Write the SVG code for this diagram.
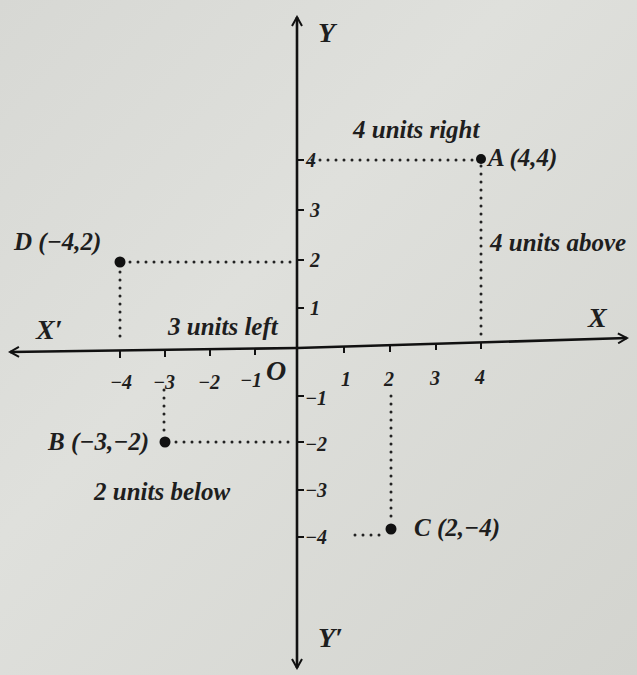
<svg xmlns="http://www.w3.org/2000/svg" width="637" height="675" viewBox="0 0 637 675">
<defs>
<linearGradient id="bg" x1="0" y1="0" x2="1" y2="1">
<stop offset="0" stop-color="#d7d8d4"/>
<stop offset="0.4" stop-color="#dfe0dc"/>
<stop offset="1" stop-color="#d3d4cf"/>
</linearGradient>
<marker id="ah" viewBox="0 0 12 12" refX="10" refY="6" markerWidth="12" markerHeight="12" markerUnits="userSpaceOnUse" orient="auto">
<path d="M1,1 L10,6 L1,11" fill="none" stroke="#111" stroke-width="2"/>
</marker>
<style>
.t{font-family:"Liberation Serif",serif;font-style:italic;font-weight:bold;fill:#1e1e1e;font-size:25px}
.big{font-size:28px}
.n{font-family:"Liberation Serif",serif;font-style:italic;font-weight:bold;fill:#1e1e1e;font-size:20px}
.ax{stroke:#111;stroke-width:2.6;fill:none}
.tk{stroke:#111;stroke-width:2;fill:none}
.dot{stroke:#222;stroke-width:3;stroke-linecap:round;stroke-dasharray:0 8;fill:none}
.pt{fill:#111}
</style>
</defs>
<rect width="637" height="675" fill="url(#bg)"/>
<g id="connectors">
<path class="dot" d="M312,160 H476"/>
<path class="dot" d="M481,166 V336"/>
<path class="dot" d="M130,262 H294"/>
<path class="dot" d="M120,272 V344"/>
<path class="dot" d="M164,390 V436"/>
<path class="dot" d="M176,442 H290"/>
<path class="dot" d="M391,396 V522"/>
<path class="dot" d="M355,535 H383"/>
</g>
<g id="axes">
<line class="ax" x1="297" y1="664" x2="297" y2="17" marker-end="url(#ah)"/>
<line class="ax" x1="297" y1="664" x2="297" y2="668" marker-end="url(#ah)"/>
<line class="ax" x1="297" y1="348" x2="627" y2="338" marker-end="url(#ah)"/>
<line class="ax" x1="297" y1="348" x2="10" y2="352" marker-end="url(#ah)"/>
<g class="tk">
<line x1="120" y1="351" x2="120" y2="358"/>
<line x1="165" y1="350" x2="165" y2="357"/>
<line x1="210" y1="350" x2="210" y2="356"/>
<line x1="255" y1="349" x2="255" y2="355"/>
<line x1="344" y1="346" x2="344" y2="353"/>
<line x1="390" y1="345" x2="390" y2="352"/>
<line x1="436" y1="343" x2="436" y2="350"/>
<line x1="481" y1="342" x2="481" y2="349"/>
<line x1="297" y1="160" x2="304" y2="160"/>
<line x1="297" y1="210" x2="304" y2="210"/>
<line x1="297" y1="260" x2="304" y2="260"/>
<line x1="297" y1="308" x2="304" y2="308"/>
<line x1="297" y1="396" x2="304" y2="396"/>
<line x1="297" y1="442" x2="304" y2="442"/>
<line x1="297" y1="490" x2="304" y2="490"/>
<line x1="297" y1="537" x2="304" y2="537"/>
</g>
</g>
<g id="axis-labels">
<text class="t big" x="318" y="42">Y</text>
<text class="t big" x="318" y="647">Y′</text>
<text class="t big" x="588" y="327">X</text>
<text class="t big" x="36" y="339">X′</text>
<text class="t big" x="266" y="380">O</text>
</g>
<g id="x-ticks">
<text class="n" x="110" y="389">−4</text>
<text class="n" x="153" y="389">−3</text>
<text class="n" x="198" y="389">−2</text>
<text class="n" x="240" y="387">−1</text>
<text class="n" x="341" y="386">1</text>
<text class="n" x="384" y="386">2</text>
<text class="n" x="430" y="385">3</text>
<text class="n" x="475" y="384">4</text>
</g>
<g id="y-ticks">
<text class="n" x="306" y="167">4</text>
<text class="n" x="310" y="217">3</text>
<text class="n" x="310" y="267">2</text>
<text class="n" x="310" y="315">1</text>
<text class="n" x="305" y="405">−1</text>
<text class="n" x="305" y="451">−2</text>
<text class="n" x="305" y="497">−3</text>
<text class="n" x="305" y="544">−4</text>
</g>
<g id="pointA">
<circle class="pt" cx="481" cy="159" r="5"/>
<text class="t" x="488" y="166">A (4,4)</text>
</g>
<g id="pointD">
<circle class="pt" cx="120" cy="262" r="5.5"/>
<text class="t" x="14" y="250">D (−4,2)</text>
</g>
<g id="pointB">
<circle class="pt" cx="165" cy="442" r="5.5"/>
<text class="t" x="48" y="450">B (−3,−2)</text>
</g>
<g id="pointC">
<circle class="pt" cx="391" cy="529" r="5.5"/>
<text class="t" x="414" y="536">C (2,−4)</text>
</g>
<g id="notes">
<text class="t" x="353" y="138">4 units right</text>
<text class="t" x="490" y="251">4 units above</text>
<text class="t" x="168" y="335">3 units left</text>
<text class="t" x="94" y="500">2 units below</text>
</g>
</svg>
